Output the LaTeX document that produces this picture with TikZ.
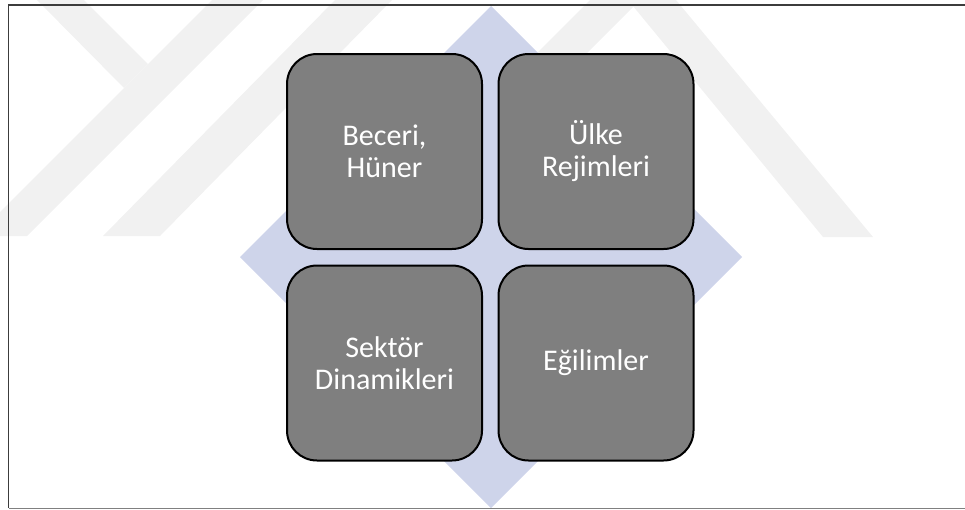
\documentclass[tikz,border=0pt]{standalone}
\usepackage{fontspec}
\setmainfont{Carlito}
\definecolor{boxgray}{RGB}{127,127,127}
\definecolor{diamondblue}{RGB}{206,212,234}
\definecolor{wmgray}{RGB}{241,241,241}
\definecolor{framegray}{RGB}{60,60,60}
\begin{document}
\begin{tikzpicture}[x=1pt,y=-1pt,
  box/.style={draw=black, line width=2pt, fill=boxgray, rounded corners=30pt,
    minimum width=195pt, minimum height=195pt, inner sep=0pt, align=center,
    text=white, font=\fontsize{30}{32}\selectfont},
  wm/.style={fill=wmgray, draw=none}]
\useasboundingbox (0,0) rectangle (965,509);
% faint watermark
\fill[wm] (37,0) -- (84,0) -- (148,64) -- (124,88) -- cycle;
\fill[wm] (212,0) -- (263,0) -- (27,236) -- (0,236) -- (0,212) -- cycle;
\fill[wm] (335,0) -- (392,0) -- (160,236) -- (103,236) -- cycle;
\fill[wm] (628,0) -- (676,0) -- (873,237) -- (823,237) -- cycle;
\fill[wm] (590,0) -- (640,0) -- (560,80) -- (510,80) -- cycle;
% diamond
\coordinate (dc) at (491,257);
\fill[diamondblue] (491,6) -- (742,257) -- (491,508) -- (240,257) -- cycle;
% frame
\draw[line width=1.5pt, framegray] (965,5) -- (8.5,5) -- (8.5,508);
\draw[line width=1pt, gray] (8.5,508) -- (965,508);
% boxes
\node[box] (b1) at (384.5,151.5) {Beceri,\\Hüner};
\node[box] (b2) at (596,151.5) {Ülke\\Rejimleri};
\node[box] (b3) at (384.5,363) {Sektör\\Dinamikleri};
\node[box] (b4) at (596,363) {Eğilimler};
\end{tikzpicture}
\end{document}
